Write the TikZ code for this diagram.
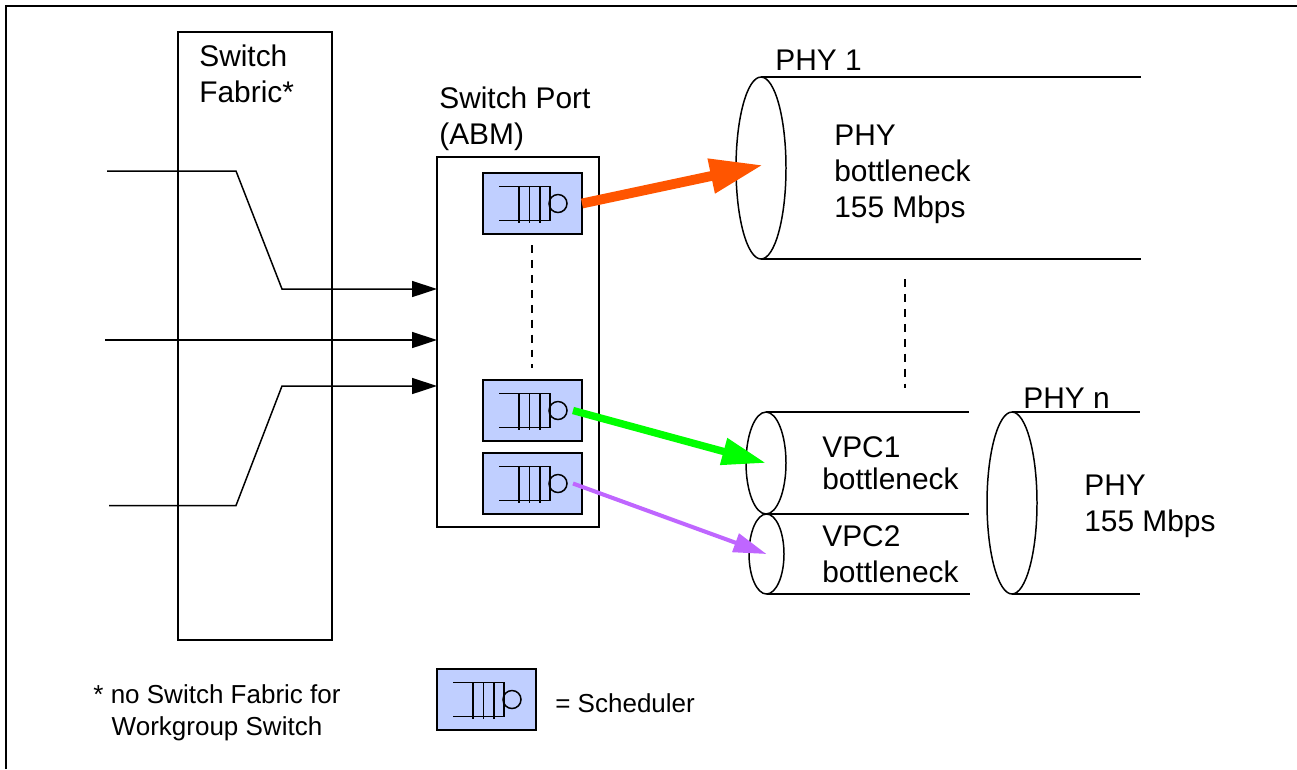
\documentclass[tikz,border=0pt]{standalone}
\usepackage{fontspec}
\setmainfont{Liberation Sans}
\usepackage{xcolor}
\usetikzlibrary{shapes.geometric,arrows.meta,positioning}
\definecolor{schedblue}{HTML}{C0CFFF}
\definecolor{arrorange}{HTML}{FF5500}
\definecolor{arrgreen}{HTML}{00FF00}
\definecolor{arrpurple}{HTML}{BF66FF}
\tikzset{
  pics/queue/.style={code={
    \draw[thinline] (-33.5,-17) -- (17.5,-17) -- (17.5,17) -- (-33.5,17);
    \foreach \qx in {-13.5,-3,7.5}
      \draw[thinline] (\qx,-17) -- (\qx,19);
    \draw[thinline] (25.5,0) circle (9);
  }}
}
\begin{document}
\begin{tikzpicture}[
    x=0.02cm, y=-0.02cm,
    thinline/.style={line width=0.85pt},
    box/.style={rectangle, draw=black, line width=0.85pt, inner sep=0pt, outer sep=0pt},
    sched/.style={box, fill=schedblue, minimum width=1.98cm, minimum height=1.22cm},
    pipeend/.style={ellipse, draw=black, line width=0.85pt, inner sep=0pt, outer sep=0pt},
    labl/.style={anchor=west, align=left, inner sep=0pt, font=\fontsize{17}{20.5}\selectfont},
    note/.style={inner sep=0pt, align=center, font=\fontsize{14.8}{18.2}\selectfont},
    arr/.style={-{Triangle[length=0.5cm,width=0.32cm]}, line width=0.85pt},
    dashline/.style={line width=0.7pt, dash pattern=on 4.5pt off 4pt}
  ]
    \useasboundingbox (0,0) rectangle (1297,769);

    % ── Page frame ───────────────────────────────────────────
    \coordinate (frametl) at (6,6);
    \draw[line width=1.2pt] (6,769) -- (frametl) -- (1297,6);

    % ── Fabric and port ──────────────────────────────────────
    \node[box, minimum width=3.08cm, minimum height=12.16cm] (fabric) at (255,336) {};
    \node[box, minimum width=3.24cm, minimum height=7.4cm]   (port)   at (518,342) {};
    \node[labl] (fabrictxt) at (199,73.5)  {Switch\\Fabric*};
    \node[labl] (porttxt)   at (439,119) {Switch Port\\(ABM)};

    % ── Schedulers ───────────────────────────────────────────
    \node[sched] (schedA) at (532.5,203.5) {};
    \node[sched] (schedB) at (532.5,410.5) {};
    \node[sched] (schedC) at (532.5,483.5) {};
    \node[sched] (schedkey) at (486.5,699.5) {};
    \foreach \sname in {schedA,schedB,schedC,schedkey}
      \pic at (\sname.center) {queue};
    \coordinate (dashAtop) at (532,245);
    \coordinate (dashAend) at (532,368);
    \draw[dashline] (dashAtop) -- (dashAend);

    % ── Pipes ────────────────────────────────────────────────
    \node[pipeend, minimum width=1cm,   minimum height=3.64cm] (phyone) at (761,168)   {};
    \node[pipeend, minimum width=0.8cm, minimum height=2.04cm] (vpcone) at (766,463)   {};
    \node[pipeend, minimum width=0.7cm, minimum height=1.6cm]  (vpctwo) at (766.5,554) {};
    \node[pipeend, minimum width=1cm,   minimum height=3.64cm] (phyn)   at (1012,503)  {};
    \draw[thinline] (phyone.north) -- ++(380,0);
    \draw[thinline] (phyone.south) -- ++(380,0);
    \draw[thinline] (vpcone.north) -- ++(203,0);
    \draw[thinline] (vpcone.south) -- ++(203,0);
    \draw[thinline] (vpctwo.south) -- ++(203,0);
    \draw[thinline] (phyn.north)   -- ++(128,0);
    \draw[thinline] (phyn.south)   -- ++(128,0);
    \coordinate (dashBtop) at (905,279);
    \coordinate (dashBend) at (905,388);
    \draw[dashline] (dashBtop) -- (dashBend);

    \node[labl] (phyonetxt) at (775,60)   {PHY 1};
    \node[labl] (phyneck)   at (834,174.5)  {PHY\\bottleneck\\155 Mbps};
    \node[labl, font=\fontsize{17}{18.4}\selectfont] (vpconetxt) at (822,463)  {VPC1\\bottleneck};
    \node[labl] (vpctwotxt) at (822,554)  {VPC2\\bottleneck};
    \node[labl] (phyntxt)   at (1023,398) {PHY n};
    \node[labl] (phynrate)  at (1084,506) {PHY\\155 Mbps};

    % ── Inputs into the port ─────────────────────────────────
    \coordinate (inA) at (107,171);
    \coordinate (inB) at (105,340);
    \coordinate (inC) at (109,505.5);
    \draw[arr] (inA) -- (236,171) -- (282,289) -- (port.west |- 0,289);
    \draw[arr] (inB) -- (port.west |- inB);
    \draw[arr] (inC) -- (236,505.5) -- (282,386) -- (port.west |- 0,386);

    % ── Scheduler to pipe arrows ─────────────────────────────
    \draw[-{Triangle[length=1.06cm,width=0.66cm]}, arrorange, line width=5.6pt]
      (schedA.east) -- ([shift={(2,-3)}]phyone.center);
    \draw[-{Triangle[length=0.88cm,width=0.52cm]}, arrgreen, line width=4.2pt]
      ([xshift=-0.18cm]schedB.east) -- (vpcone.center);
    \draw[-{Triangle[length=0.66cm,width=0.38cm]}, arrpurple, line width=2.3pt]
      ([xshift=-0.18cm]schedC.east) -- (vpctwo.center);

    % ── Notes ────────────────────────────────────────────────
    \node[note] (footnote) at (217,713) {* no Switch Fabric for\\Workgroup Switch};
    \node[note, anchor=west] (keytxt) at (555,703) {= Scheduler};
  \end{tikzpicture}
\end{document}
